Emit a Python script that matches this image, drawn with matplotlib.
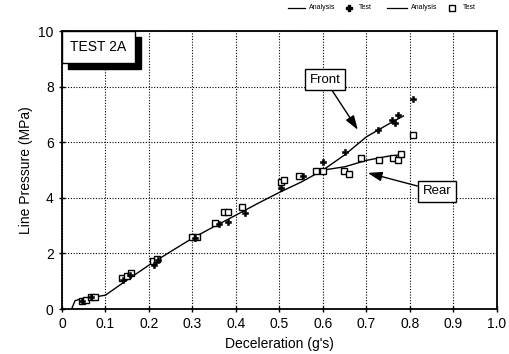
import matplotlib
matplotlib.use("Agg")
import matplotlib.pyplot as plt
from matplotlib.patches import Rectangle

plt.rcParams['font.family'] = ['Liberation Sans', 'DejaVu Sans']

# Analysis curves
analysis_x = [0.022, 0.03, 0.04, 0.07, 0.10, 0.15, 0.20, 0.25, 0.30, 0.35, 0.40, 0.45, 0.50, 0.55, 0.60]
analysis_y = [0.0, 0.3, 0.35, 0.42, 0.5, 1.05, 1.58, 2.07, 2.55, 2.97, 3.38, 3.8, 4.2, 4.57, 5.0]
front_tail_x = [0.60, 0.65, 0.70, 0.75, 0.785]
front_tail_y = [5.0, 5.55, 6.2, 6.65, 6.95]
rear_tail_x = [0.60, 0.65, 0.70, 0.75, 0.78]
rear_tail_y = [5.0, 5.12, 5.35, 5.5, 5.55]

# Test points
front_test_x = [0.045, 0.067, 0.14, 0.157, 0.212, 0.22, 0.305, 0.36, 0.382, 0.42, 0.503,
                0.555, 0.60, 0.65, 0.727, 0.759, 0.765, 0.773, 0.807]
front_test_y = [0.30, 0.42, 1.05, 1.22, 1.6, 1.75, 2.55, 3.05, 3.15, 3.45, 4.35,
                4.8, 5.3, 5.65, 6.44, 6.8, 6.7, 6.98, 7.55]
rear_test_x = [0.045, 0.055, 0.067, 0.075, 0.137, 0.15, 0.158, 0.21, 0.218, 0.30, 0.31,
               0.352, 0.372, 0.382, 0.414, 0.503, 0.51, 0.545, 0.585, 0.60, 0.648, 0.66,
               0.687, 0.729, 0.761, 0.773, 0.779, 0.807]
rear_test_y = [0.30, 0.32, 0.45, 0.42, 1.1, 1.2, 1.3, 1.72, 1.8, 2.6, 2.6,
               3.1, 3.5, 3.5, 3.67, 4.58, 4.65, 4.8, 4.95, 4.95, 4.95, 4.85,
               5.45, 5.36, 5.43, 5.36, 5.58, 6.26]

x_ticks = [0, 0.1, 0.2, 0.3, 0.4, 0.5, 0.6, 0.7, 0.8, 0.9, 1.0]
x_labels = ['0', '0.1', '0.2', '0.3', '0.4', '0.5', '0.6', '0.7', '0.8', '0.9', '1.0']
y_ticks = [0, 2, 4, 6, 8, 10]

fig = plt.figure(figsize=(5.09, 3.54), dpi=100)
ax = fig.add_axes([0.1218, 0.127, 0.8546, 0.785])

ax.plot(analysis_x, analysis_y, color='black', lw=1.0)
ax.plot(front_tail_x, front_tail_y, color='black', lw=1.0)
ax.plot(rear_tail_x, rear_tail_y, color='black', lw=1.0)

ax.plot(rear_test_x, rear_test_y, linestyle='none', marker='s', ms=4.8,
        mfc='white', mec='black', mew=1.0)
ax.plot(front_test_x, front_test_y, linestyle='none', marker='P', ms=4.8,
        mfc='black', mec='black', mew=0.4)

ax.set_xlim(0, 1.0)
ax.set_ylim(0, 10)
ax.set_xticks(x_ticks)
ax.set_xticklabels(x_labels)
ax.set_yticks(y_ticks)
ax.grid(True, color='black', linestyle=(0, (1, 1.5)), lw=0.8)
ax.tick_params(direction='inout', length=5, width=1, labelsize=10, colors='black')
for s in ax.spines.values():
    s.set_linewidth(1.3)
    s.set_color('black')

ax.set_xlabel('Deceleration (g\'s)', fontsize=10)
ax.set_ylabel('Line Pressure (MPa)', fontsize=10)

# TEST 2A box with shadow
ax.add_patch(Rectangle((0.014, 8.65), 0.168, 1.15, transform=ax.transData,
                       facecolor='black', edgecolor='black', zorder=4, clip_on=False))
ax.add_patch(Rectangle((0.0, 8.85), 0.168, 1.15, transform=ax.transData,
                       facecolor='white', edgecolor='black', lw=1.0, zorder=5, clip_on=False))
ax.text(0.084, 9.43, 'TEST 2A', ha='center', va='center', fontsize=10, zorder=6)

# Annotations
box = dict(boxstyle='square,pad=0.35', fc='white', ec='black', lw=1.0)
arrow = dict(arrowstyle='-|>,head_length=0.9,head_width=0.3', color='black', lw=1.0,
             shrinkA=0, shrinkB=0)
ax.annotate('Front', xy=(0.68, 6.45), xytext=(0.605, 8.25), ha='center', va='center',
            fontsize=9.5, bbox=box, arrowprops=arrow, zorder=6)
ax.annotate('Rear', xy=(0.703, 4.9), xytext=(0.862, 4.24), ha='center', va='center',
            fontsize=9.5, bbox=box, arrowprops=arrow, zorder=6)

# Legend text at top
fy = 0.978
fig.lines.append(plt.Line2D([0.565, 0.60], [fy, fy], transform=fig.transFigure, color='black', lw=0.9))
fig.text(0.607, fy, 'Analysis', fontsize=5, va='center', ha='left')
fig.lines.append(plt.Line2D([0.685], [fy], transform=fig.transFigure, marker='P', ms=4,
                            color='black', linestyle='none'))
fig.text(0.705, fy, 'Test', fontsize=5, va='center', ha='left')
fig.lines.append(plt.Line2D([0.76, 0.80], [fy, fy], transform=fig.transFigure, color='black', lw=0.9))
fig.text(0.807, fy, 'Analysis', fontsize=5, va='center', ha='left')
fig.lines.append(plt.Line2D([0.888], [fy], transform=fig.transFigure, marker='s', ms=4,
                            mfc='white', mec='black', linestyle='none'))
fig.text(0.91, fy, 'Test', fontsize=5, va='center', ha='left')

fig.savefig('out.png', dpi=100)
